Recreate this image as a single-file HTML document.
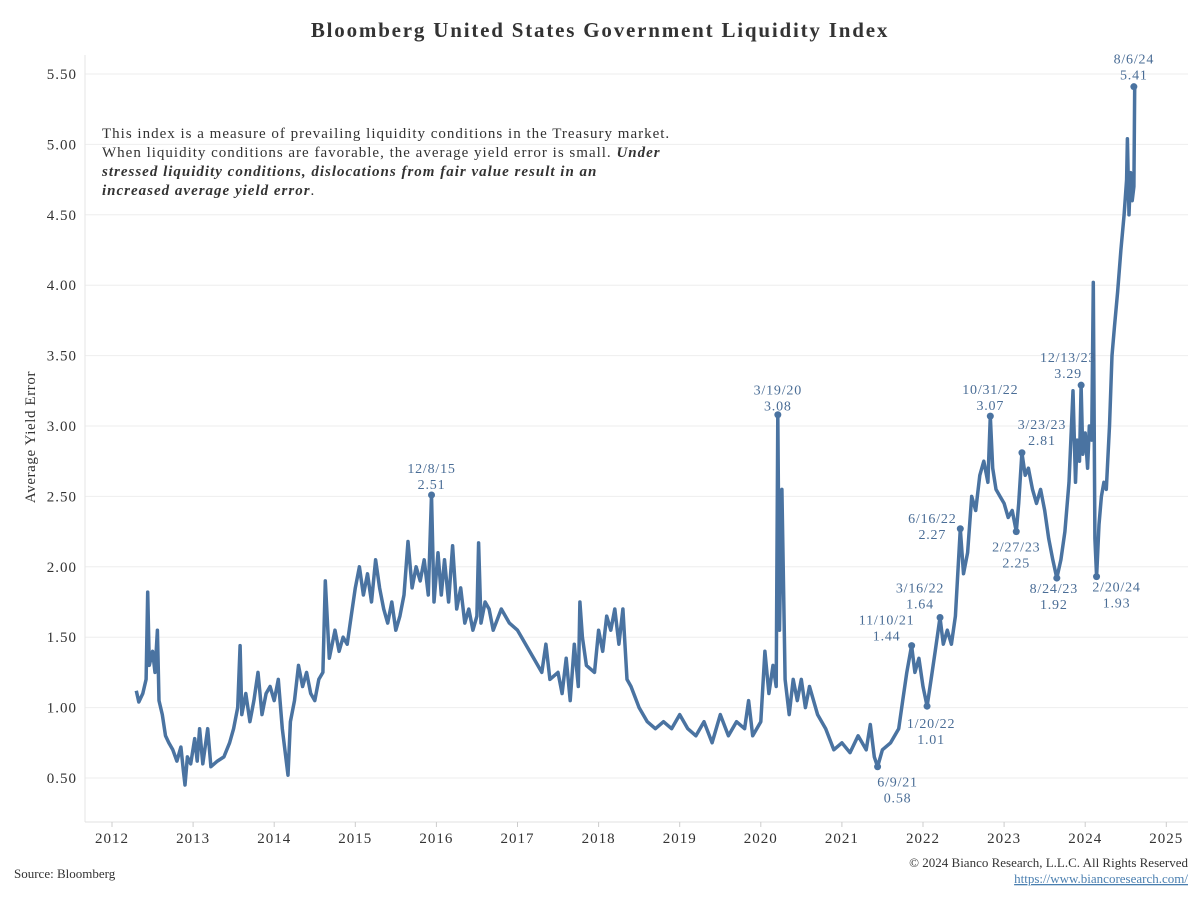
<!DOCTYPE html>
<html><head><meta charset="utf-8"><style>
body{margin:0;background:#fff;}
svg text{font-family:"Liberation Serif",serif;}
</style></head><body>
<svg id="chart" width="1200" height="900" xmlns="http://www.w3.org/2000/svg">
<rect width="1200" height="900" fill="#fff"/>
<text x="600" y="37" text-anchor="middle" font-size="21" font-weight="bold" letter-spacing="1.8" fill="#333">Bloomberg United States Government Liquidity Index</text>
<g id="grid"></g>
<g id="axes"></g>
<text transform="translate(35,437) rotate(-90)" text-anchor="middle" font-size="15" letter-spacing="0.6" fill="#333">Average Yield Error</text>
<g font-size="15" letter-spacing="1" fill="#333">
<text x="102" y="138">This index is a measure of prevailing liquidity conditions in the Treasury market.</text>
<text x="102" y="157">When liquidity conditions are favorable, the average yield error is small. <tspan font-weight="bold" font-style="italic">Under</tspan></text>
<text x="102" y="176" font-weight="bold" font-style="italic">stressed liquidity conditions, dislocations from fair value result in an</text>
<text x="102" y="195"><tspan font-weight="bold" font-style="italic">increased average yield error</tspan>.</text>
</g>
<g id="series"></g>
<g id="annots"></g>
<text x="14" y="878" font-size="13" fill="#333">Source: Bloomberg</text>
<text x="1188" y="867" text-anchor="end" font-size="13" fill="#333">© 2024 Bianco Research, L.L.C. All Rights Reserved</text>
<text x="1188" y="883" text-anchor="end" font-size="13" fill="#4a7fb0" text-decoration="underline">https://www.biancoresearch.com/</text>
</svg>
<script>
const yTicks=[0.5,1.0,1.5,2.0,2.5,3.0,3.5,4.0,4.5,5.0,5.5];
const xYears=[2012,2013,2014,2015,2016,2017,2018,2019,2020,2021,2022,2023,2024,2025];
const dates=[2012.30,2012.33,2012.38,2012.42,2012.44,2012.46,2012.50,2012.53,2012.56,2012.58,2012.62,2012.66,2012.70,2012.75,2012.80,2012.85,2012.88,2012.90,2012.93,2012.97,2013.02,2013.05,2013.08,2013.12,2013.18,2013.22,2013.30,2013.38,2013.45,2013.50,2013.55,2013.58,2013.60,2013.65,2013.70,2013.75,2013.80,2013.85,2013.90,2013.95,2014.00,2014.05,2014.10,2014.17,2014.20,2014.25,2014.30,2014.35,2014.40,2014.45,2014.50,2014.55,2014.60,2014.63,2014.68,2014.75,2014.80,2014.85,2014.90,2014.95,2015.00,2015.05,2015.10,2015.15,2015.20,2015.25,2015.30,2015.35,2015.40,2015.45,2015.50,2015.55,2015.60,2015.65,2015.70,2015.75,2015.80,2015.85,2015.90,2015.94,2015.97,2016.02,2016.06,2016.10,2016.15,2016.20,2016.25,2016.30,2016.35,2016.40,2016.45,2016.50,2016.52,2016.55,2016.60,2016.65,2016.70,2016.80,2016.90,2017.00,2017.10,2017.20,2017.30,2017.35,2017.40,2017.50,2017.55,2017.60,2017.65,2017.70,2017.75,2017.77,2017.80,2017.85,2017.95,2018.00,2018.05,2018.10,2018.15,2018.20,2018.25,2018.30,2018.35,2018.40,2018.50,2018.60,2018.70,2018.80,2018.90,2019.00,2019.10,2019.20,2019.30,2019.40,2019.50,2019.60,2019.70,2019.80,2019.85,2019.90,2020.00,2020.05,2020.10,2020.15,2020.19,2020.21,2020.23,2020.26,2020.30,2020.35,2020.40,2020.45,2020.50,2020.55,2020.60,2020.70,2020.80,2020.90,2021.00,2021.10,2021.20,2021.30,2021.35,2021.40,2021.44,2021.50,2021.60,2021.70,2021.75,2021.80,2021.86,2021.90,2021.95,2022.00,2022.05,2022.10,2022.15,2022.21,2022.25,2022.30,2022.35,2022.40,2022.46,2022.50,2022.55,2022.60,2022.65,2022.70,2022.75,2022.80,2022.83,2022.86,2022.90,2022.95,2023.00,2023.05,2023.10,2023.15,2023.18,2023.22,2023.26,2023.30,2023.35,2023.40,2023.45,2023.50,2023.55,2023.60,2023.65,2023.70,2023.75,2023.80,2023.85,2023.88,2023.90,2023.93,2023.95,2023.97,2024.00,2024.03,2024.05,2024.08,2024.10,2024.12,2024.14,2024.17,2024.20,2024.23,2024.26,2024.30,2024.33,2024.36,2024.40,2024.44,2024.48,2024.51,2024.52,2024.54,2024.56,2024.58,2024.60,2024.61];
const values=[1.12,1.04,1.10,1.20,1.82,1.30,1.40,1.25,1.55,1.05,0.95,0.80,0.75,0.70,0.62,0.72,0.55,0.45,0.65,0.60,0.78,0.62,0.85,0.60,0.85,0.58,0.62,0.65,0.75,0.85,1.00,1.44,0.95,1.10,0.90,1.05,1.25,0.95,1.10,1.15,1.05,1.20,0.85,0.52,0.90,1.05,1.30,1.15,1.25,1.10,1.05,1.20,1.25,1.90,1.35,1.55,1.40,1.50,1.45,1.65,1.85,2.00,1.80,1.95,1.75,2.05,1.85,1.70,1.60,1.75,1.55,1.65,1.80,2.18,1.85,2.00,1.90,2.05,1.80,2.51,1.75,2.10,1.80,2.05,1.75,2.15,1.70,1.85,1.60,1.70,1.55,1.65,2.17,1.60,1.75,1.70,1.55,1.70,1.60,1.55,1.45,1.35,1.25,1.45,1.20,1.25,1.10,1.35,1.05,1.45,1.15,1.75,1.50,1.30,1.25,1.55,1.40,1.65,1.55,1.70,1.45,1.70,1.20,1.15,1.00,0.90,0.85,0.90,0.85,0.95,0.85,0.80,0.90,0.75,0.95,0.80,0.90,0.85,1.05,0.80,0.90,1.40,1.10,1.30,1.15,3.08,1.55,2.55,1.20,0.95,1.20,1.05,1.20,1.00,1.15,0.95,0.85,0.70,0.75,0.68,0.80,0.70,0.88,0.65,0.58,0.70,0.75,0.85,1.05,1.25,1.44,1.25,1.35,1.15,1.01,1.20,1.40,1.64,1.45,1.55,1.45,1.65,2.27,1.95,2.10,2.50,2.40,2.65,2.75,2.60,3.07,2.70,2.55,2.50,2.45,2.35,2.40,2.25,2.45,2.81,2.65,2.70,2.55,2.45,2.55,2.40,2.20,2.05,1.92,2.05,2.25,2.60,3.25,2.60,2.90,2.75,3.29,2.80,2.95,2.70,3.00,2.90,4.02,2.20,1.93,2.30,2.50,2.60,2.55,3.00,3.50,3.70,3.95,4.25,4.50,4.75,5.04,4.50,4.80,4.60,4.70,5.41];
const annDates=[2024.60,2015.94,2020.21,2022.83,2023.95,2023.22,2022.46,2022.21,2021.86,2022.05,2021.44,2023.15,2023.65,2024.14];
const annValues=[5.41,2.51,3.08,3.07,3.29,2.81,2.27,1.64,1.44,1.01,0.58,2.25,1.92,1.93];
const annLabels=["8/6/24","12/8/15","3/19/20","10/31/22","12/13/23","3/23/23","6/16/22","3/16/22","11/10/21","1/20/22","6/9/21","2/27/23","8/24/23","2/20/24"];
const annDx=[0,0,0,0,-13,20,-28,-20,-25,4,20,0,-3,20];
const annDy=[-27,-26,-24,-26,-27,-28,-10,-29,-25,17,15,15,10,10];

const NS="http://www.w3.org/2000/svg";
const X0=85,X1=1188,Y0=822,YT=55;
function x(t){return 112+(t-2012)*81.1;}
function y(v){return 778-(v-0.5)*140.8;}
function mk(tag,attrs,parent,txt){const e=document.createElementNS(NS,tag);for(const k in attrs)e.setAttribute(k,attrs[k]);if(txt!==undefined)e.textContent=txt;parent.appendChild(e);return e;}
const grid=document.getElementById('grid'),axes=document.getElementById('axes'),ser=document.getElementById('series'),ann=document.getElementById('annots');
yTicks.forEach(v=>{
 const l=mk('line',{x1:X0,x2:X1,y1:y(v),y2:y(v),stroke:'#eeeeee','stroke-width':1},grid);
 
 
 const t=mk('text',{x:77,y:y(v)+5,'text-anchor':'end','font-size':15,'letter-spacing':1,fill:'#333'},axes,v.toFixed(2));
 
 
});
const ax=mk('line',{x1:X0,x2:X0,y1:YT,y2:Y0,stroke:'#e6e6e6'},axes);


const bx=mk('line',{x1:X0,x2:X1,y1:Y0,y2:Y0,stroke:'#e0e0e0'},axes);


xYears.forEach(yr=>{
 const tk=mk('line',{x1:x(yr),x2:x(yr),y1:Y0,y2:Y0+5,stroke:'#ccc'},axes);
 
 
 const t=mk('text',{x:x(yr),y:843,'text-anchor':'middle','font-size':15,'letter-spacing':1,fill:'#333'},axes,String(yr));
 
 
});
let d='';dates.forEach((t,i)=>{d+=(i?'L':'M')+x(t).toFixed(1)+','+y(values[i]).toFixed(1);});
const p=mk('path',{d:d,fill:'none',stroke:'#4a73a1','stroke-width':3.5,'stroke-linejoin':'round'},ser);


annDates.forEach((t,i)=>{
 const px=x(t),py=y(annValues[i]);
 const c=mk('circle',{cx:px,cy:py,r:3.5,fill:'#4a73a1'},ann);
 
 
 const cx=px+annDx[i],top=py+annDy[i];
 const ty=annDy[i]<0?top+4:top+5;
 const t1=mk('text',{x:cx,y:ty,'text-anchor':'middle','font-size':14,'letter-spacing':0.8,fill:'#4a6d96'},ann,annLabels[i]);
 
 
 const t2=mk('text',{x:cx,y:ty+16,'text-anchor':'middle','font-size':14,'letter-spacing':0.8,fill:'#4a6d96'},ann,annValues[i].toFixed(2));
 
 
});
</script>
</body></html>
